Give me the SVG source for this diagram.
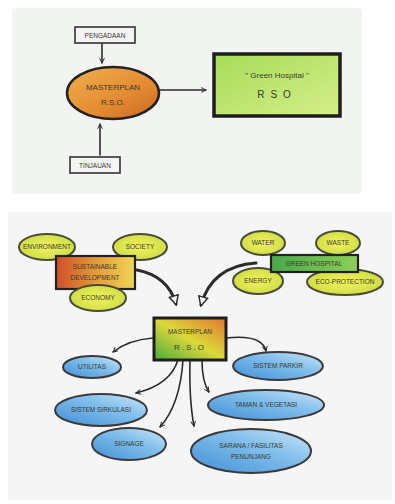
<svg xmlns="http://www.w3.org/2000/svg" width="395" height="504" viewBox="0 0 395 504">
<style>
.t{font-family:"Liberation Sans",Arial,sans-serif;fill:#3a3a2a;text-anchor:middle}
.s{font-size:6.5px}
.m{font-size:8px}
.ln{fill:none;stroke:#2b2b2b;stroke-width:1.6;stroke-linecap:round}
.tk{fill:none;stroke:#2b2b2b;stroke-width:3;stroke-linecap:round}
.bx{stroke:#222;stroke-width:2.2}
.yel{fill:url(#gy);stroke:#4a4a3a;stroke-width:2}
.blu{fill:url(#gb);stroke:#3a3a3a;stroke-width:2}
</style>
<defs>
<linearGradient id="go" x1="0" y1="0" x2="1" y2="1"><stop offset="0" stop-color="#f0b050"/><stop offset="0.6" stop-color="#e48a30"/><stop offset="1" stop-color="#c9671f"/></linearGradient>
<linearGradient id="gg" x1="0" y1="0" x2="1" y2="1"><stop offset="0" stop-color="#a6dc58"/><stop offset="1" stop-color="#d6ee8a"/></linearGradient>
<linearGradient id="gs" x1="0" y1="0" x2="1" y2="0"><stop offset="0" stop-color="#cf4f28"/><stop offset="0.5" stop-color="#e39a3a"/><stop offset="1" stop-color="#efd558"/></linearGradient>
<linearGradient id="gh" x1="0" y1="0" x2="1" y2="0"><stop offset="0" stop-color="#4aa84a"/><stop offset="1" stop-color="#8ccf5a"/></linearGradient>
<linearGradient id="gm" x1="0" y1="1" x2="1" y2="0"><stop offset="0" stop-color="#4aab3e"/><stop offset="0.5" stop-color="#dcd83a"/><stop offset="1" stop-color="#e07630"/></linearGradient>
<radialGradient id="gy" cx="0.5" cy="0.5" r="0.6"><stop offset="0" stop-color="#f4f060"/><stop offset="1" stop-color="#c8dc40"/></radialGradient>
<linearGradient id="gb" x1="0" y1="1" x2="1" y2="0"><stop offset="0" stop-color="#3f8fd6"/><stop offset="0.6" stop-color="#84c0ec"/><stop offset="1" stop-color="#cfe8f8"/></linearGradient>
<marker id="op" viewBox="0 0 10 10" refX="9" refY="5" markerWidth="6" markerHeight="6" orient="auto" markerUnits="userSpaceOnUse"><path d="M1,1 L9,5 L1,9" fill="none" stroke="#2b2b2b" stroke-width="1.6"/></marker>
<marker id="ob" viewBox="0 0 12 12" refX="10" refY="6" markerWidth="11" markerHeight="11" orient="auto" markerUnits="userSpaceOnUse"><path d="M1,1 L11,6 L1,11 Z" fill="#fff" stroke="#2b2b2b" stroke-width="1.6"/></marker>
</defs>
<rect width="395" height="504" fill="#ffffff"/>
<rect x="12" y="8" width="350" height="186" fill="#f2f4f2" rx="4"/>
<rect x="8" y="212" width="384" height="288" fill="#f4f5f4" rx="4"/>

<g id="connectors">
<line class="ln" x1="102" y1="43" x2="102" y2="63" marker-end="url(#op)"/>
<line class="ln" x1="100" y1="155" x2="100" y2="124" marker-end="url(#op)"/>
<line class="ln" x1="160" y1="90" x2="206" y2="90" marker-end="url(#op)"/>
<path class="tk" d="M137,270 Q168,276 176,304" marker-end="url(#ob)"/>
<path class="tk" d="M256,263 Q212,266 201,305" marker-end="url(#ob)"/>
<path class="ln" d="M153,338 Q128,340 113,352" marker-end="url(#op)"/>
<path class="ln" d="M178,360 Q170,385 136,393" marker-end="url(#op)"/>
<path class="ln" d="M183,360 Q180,405 160,427" marker-end="url(#op)"/>
<path class="ln" d="M190,360 Q189,400 194,426" marker-end="url(#op)"/>
<path class="ln" d="M202,360 Q202,382 209,392" marker-end="url(#op)"/>
<path class="ln" d="M226,338 Q262,334 266,351" marker-end="url(#op)"/>
</g>

<g id="n-pengadaan"><rect x="75" y="27" width="60" height="16" fill="#f4f2f4" stroke="#333" stroke-width="1.6"/><text class="t s" x="105" y="38">PENGADAAN</text></g>
<g id="n-masterplan1"><ellipse cx="113" cy="93" rx="46" ry="26" fill="url(#go)" stroke="#222" stroke-width="2.5"/><text class="t m" x="113" y="90">MASTERPLAN</text><text class="t m" x="113" y="105">R.S.O.</text></g>
<g id="n-tinjauan"><rect x="70" y="157" width="50" height="16" fill="#f4f4f2" stroke="#333" stroke-width="1.6"/><text class="t s" x="95" y="168">TINJAUAN</text></g>
<g id="n-green1"><rect x="214" y="54" width="126" height="62" fill="url(#gg)" stroke="#1e1e1e" stroke-width="3.5"/><text class="t m" x="277" y="78">" Green Hospital "</text><text class="t" x="277" y="98" font-size="10" letter-spacing="6">RSO</text></g>

<g id="n-environment"><ellipse class="yel" cx="47" cy="247" rx="28" ry="13"/><text class="t s" x="47" y="249">ENVIRONMENT</text></g>
<g id="n-society"><ellipse class="yel" cx="140" cy="247" rx="27" ry="13"/><text class="t s" x="140" y="249">SOCIETY</text></g>
<g id="n-sustainable"><rect class="bx" x="56" y="256" width="79" height="33" fill="url(#gs)"/><text class="t s" x="95" y="269">SUSTAINABLE</text><text class="t s" x="95" y="280">DEVELOPMENT</text></g>
<g id="n-economy"><ellipse class="yel" cx="98" cy="298" rx="28" ry="13"/><text class="t s" x="98" y="300">ECONOMY</text></g>
<g id="n-water"><ellipse class="yel" cx="263" cy="243" rx="22" ry="12"/><text class="t s" x="263" y="245">WATER</text></g>
<g id="n-waste"><ellipse class="yel" cx="338" cy="243" rx="22" ry="12"/><text class="t s" x="338" y="245">WASTE</text></g>
<g id="n-energy"><ellipse class="yel" cx="258" cy="281" rx="25" ry="13"/><text class="t s" x="258" y="283">ENERGY</text></g>
<g id="n-eco"><ellipse class="yel" cx="345" cy="282" rx="38" ry="13"/><text class="t s" x="345" y="284">ECO-PROTECTION</text></g>
<g id="n-green2"><rect class="bx" x="271" y="255" width="87" height="17" fill="url(#gh)"/><text class="t s" x="314" y="266">GREEN HOSPITAL</text></g>
<g id="n-masterplan2"><rect x="154" y="318" width="72" height="42" fill="url(#gm)" stroke="#1e1e1e" stroke-width="3"/><text class="t s" x="190" y="334">MASTERPLAN</text><text class="t m" x="190" y="350" letter-spacing="2">R.S.O</text></g>

<g id="n-utilitas"><ellipse class="blu" cx="92" cy="367" rx="29" ry="11"/><text class="t s" x="92" y="369">UTILITAS</text></g>
<g id="n-sirkulasi"><ellipse class="blu" cx="101" cy="410" rx="46" ry="16"/><text class="t s" x="101" y="412">SISTEM SIRKULASI</text></g>
<g id="n-signage"><ellipse class="blu" cx="129" cy="444" rx="37" ry="16"/><text class="t s" x="129" y="446">SIGNAGE</text></g>
<g id="n-parkir"><ellipse class="blu" cx="278" cy="366" rx="45" ry="14"/><text class="t s" x="278" y="368">SISTEM PARKIR</text></g>
<g id="n-taman"><ellipse class="blu" cx="266" cy="405" rx="58" ry="15"/><text class="t s" x="266" y="407">TAMAN &amp; VEGETASI</text></g>
<g id="n-sarana"><ellipse class="blu" cx="251" cy="451" rx="60" ry="22"/><text class="t s" x="251" y="448">SARANA / FASILITAS</text><text class="t s" x="251" y="459">PENUNJANG</text></g>
</svg>
